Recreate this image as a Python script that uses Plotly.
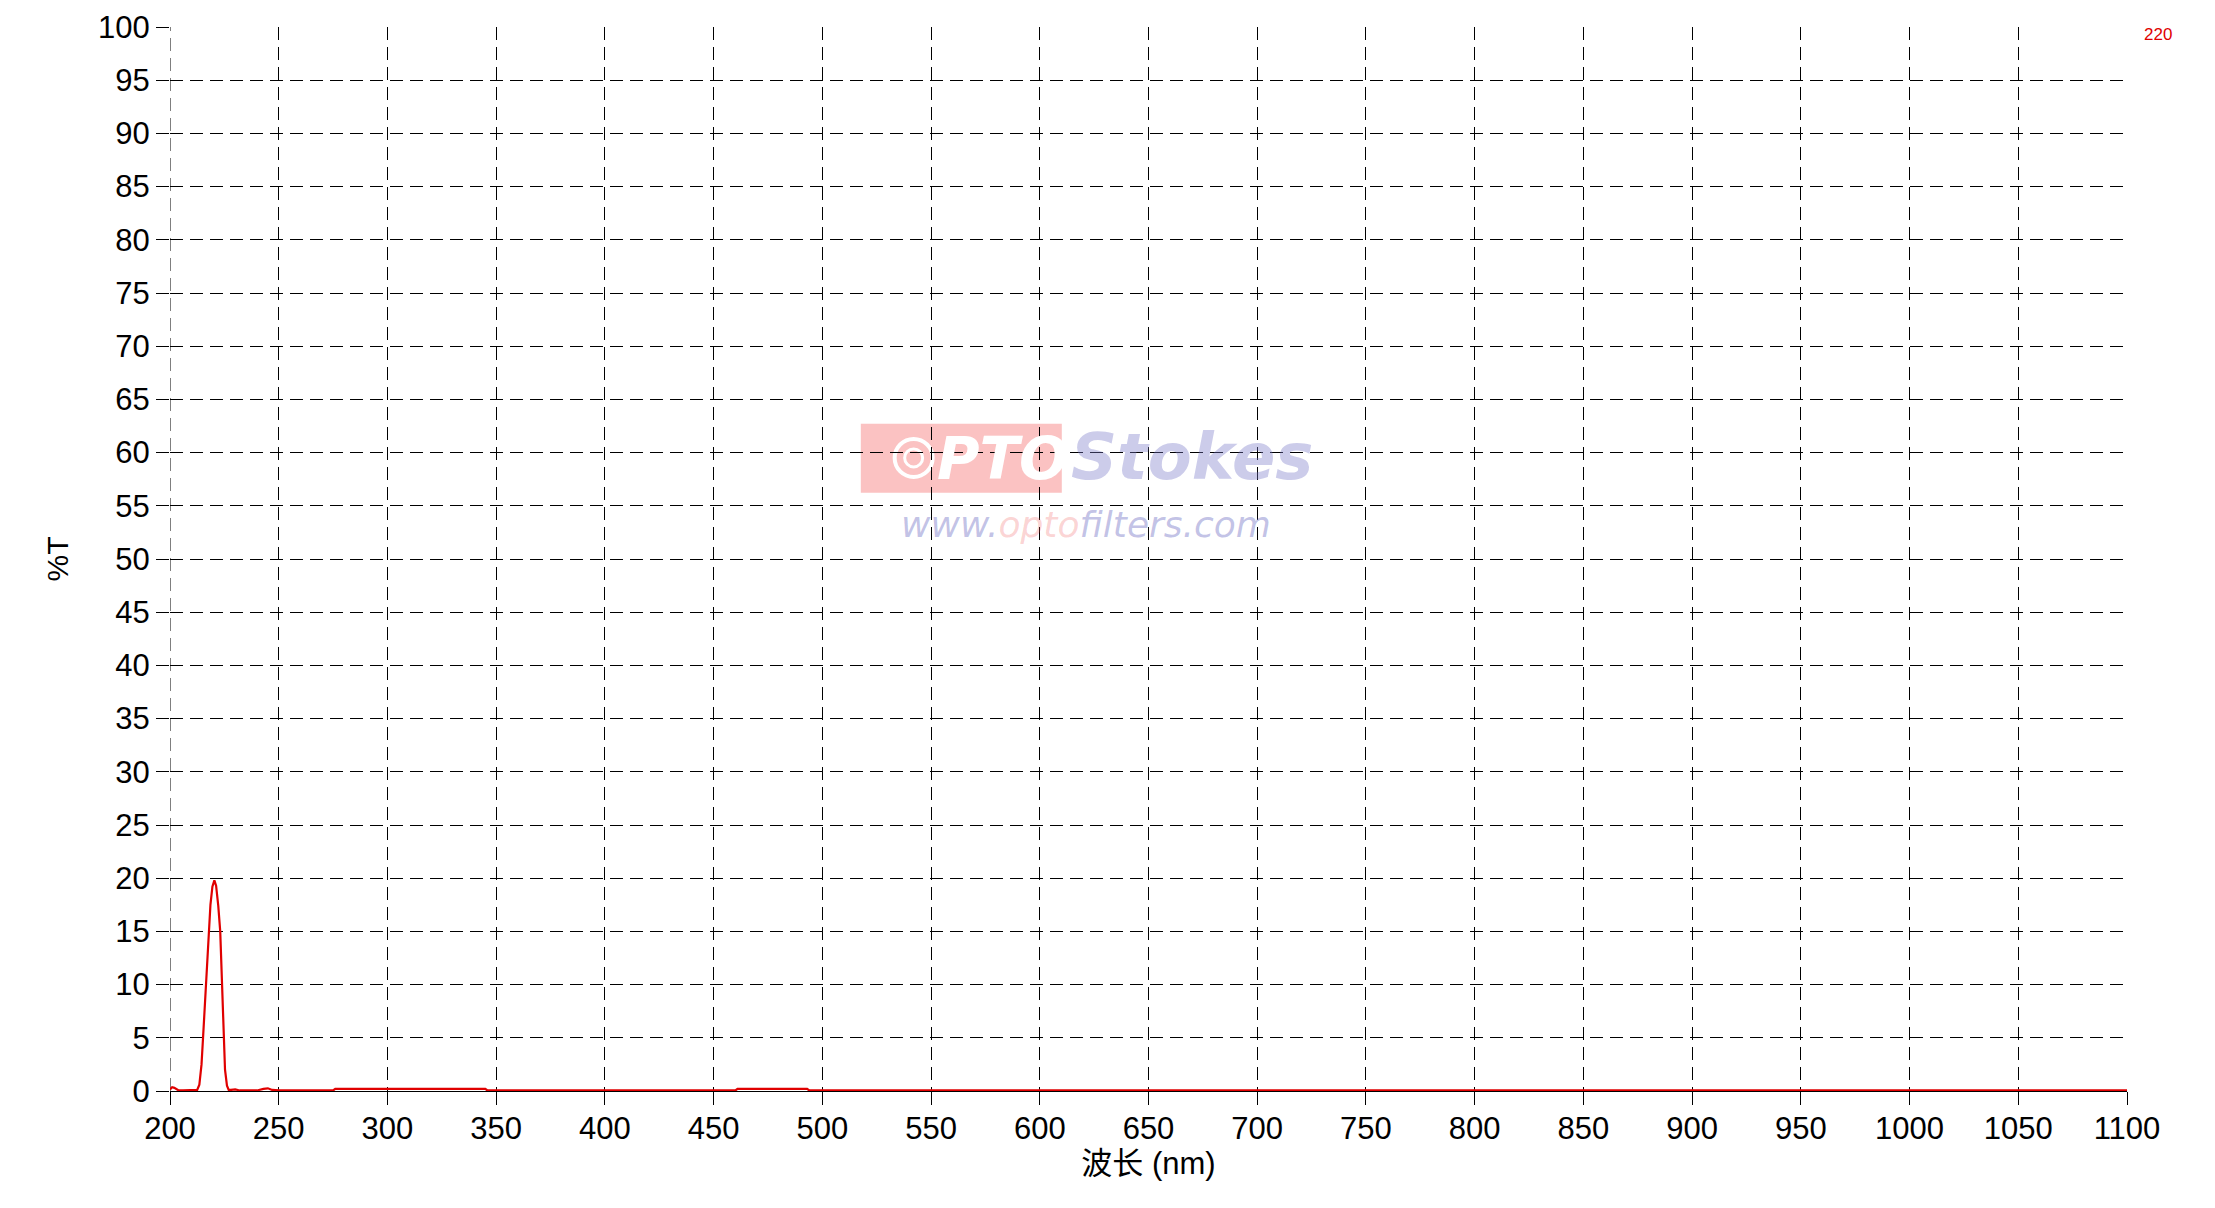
import plotly.graph_objects as go

# Wavelength (nm) and transmission (%T)
wavelength = [200, 201, 202, 203, 204, 206, 208, 210, 212, 212.5, 213.5, 214.5, 215.2, 216.0, 216.5,
              217.2, 217.8, 218.6, 219.5, 220.4, 221.2, 222.2, 223.1, 223.9, 224.6, 225.3, 226.2,
              227.0, 228, 230, 232, 235, 240, 243, 245, 247, 250, 260, 275, 276, 300, 320, 345,
              346, 380, 420, 460, 461, 480, 493, 494, 550, 600, 700, 800, 900, 1000, 1100]
transmission = [0.15, 0.35, 0.3, 0.15, 0.05, 0.05, 0.05, 0.05, 0.05, 0.1, 0.6, 2.5, 5.0, 8.0, 10.0,
                12.8, 15.0, 17.5, 19.2, 19.8, 19.3, 17.4, 15.0, 10.0, 5.0, 2.0, 0.5,
                0.1, 0.1, 0.15, 0.05, 0.05, 0.05, 0.2, 0.25, 0.1, 0.05, 0.05, 0.05, 0.2, 0.2, 0.2, 0.2,
                0.05, 0.05, 0.05, 0.05, 0.2, 0.2, 0.2, 0.05, 0.05, 0.05, 0.05, 0.05, 0.05, 0.05, 0.05]

x_ticks = list(range(200, 1101, 50))
y_ticks = list(range(0, 101, 5))
series_name = "220"

FONT = "Liberation Sans, Arial, Noto Sans CJK SC, sans-serif"
GRIDDASH = "13px,7px"

fig = go.Figure()
fig.add_trace(go.Scatter(x=wavelength, y=transmission, mode="lines", name=series_name,
                         line=dict(color="#e00000", width=2.2), showlegend=False))

fig.update_layout(
    width=2199, height=1192,
    margin=dict(l=162, r=80, t=19, b=109, autoexpand=False),
    paper_bgcolor="white", plot_bgcolor="white",
    font=dict(family=FONT, color="black", size=31),
    xaxis=dict(range=[200, 1100], tickvals=x_ticks, ticktext=[str(v) for v in x_ticks],
               showline=True, linecolor="black", linewidth=1.3, showgrid=False, automargin=False,
               ticks="outside", ticklen=13, tickwidth=1.3, tickcolor="black",
               zeroline=False, tickfont=dict(size=31), ticklabelstandoff=-3,
               title=dict(text="波长 (nm)", font=dict(size=31), standoff=6)),
    # overlay axis used only to draw the vertical dashed grid (no line at 1100 in the reference)
    xaxis2=dict(range=[200, 1100], overlaying="x", tickvals=x_ticks[:-1], showticklabels=False,
                ticks="", showline=False, zeroline=False, showgrid=True, automargin=False,
                gridcolor="black", gridwidth=1, griddash=GRIDDASH),
    yaxis=dict(range=[0, 100], tickvals=y_ticks, ticktext=[str(v) for v in y_ticks],
               showline=False, ticks="outside", ticklen=13, tickwidth=1.3, tickcolor="black",
               zeroline=False, tickfont=dict(size=31), automargin=False,
               showgrid=True, gridcolor="black", gridwidth=1, griddash=GRIDDASH,
               title=dict(text="%T", font=dict(size=30), standoff=20)),
)
# invisible trace to activate the grid axis
fig.add_trace(go.Scatter(x=[wavelength[0]], y=[transmission[0]], xaxis="x2", mode="lines",
                         line=dict(width=0), hoverinfo="skip", showlegend=False))

# dashed grid line at the left edge (plotly clips edge grid lines)
fig.add_shape(type="line", xref="x", yref="paper", x0=x_ticks[0], x1=x_ticks[0], y0=0, y1=1,
              line=dict(color="black", width=1, dash=GRIDDASH), layer="below")

# series label at top right
fig.add_annotation(xref="paper", yref="paper", x=1.0158, y=0.9928, text=series_name,
                   showarrow=False, font=dict(size=17, color="#e00000"), xanchor="center", yanchor="middle")

# watermark
fig.add_shape(type="rect", xref="paper", yref="paper", x0=0.353, x1=0.4557, y0=0.5623, y1=0.627,
              fillcolor="rgba(245,110,110,0.42)", line=dict(width=0), layer="below")
fig.add_shape(type="circle", xref="paper", yref="paper", xsizemode="pixel", ysizemode="pixel",
              xanchor=0.3800, yanchor=0.5950, x0=-19, x1=19, y0=-19, y1=19,
              line=dict(color="white", width=4), layer="below")
fig.add_shape(type="circle", xref="paper", yref="paper", xsizemode="pixel", ysizemode="pixel",
              xanchor=0.3800, yanchor=0.5950, x0=-9, x1=9, y0=-9, y1=9,
              line=dict(color="white", width=3), layer="below")
fig.add_annotation(xref="paper", yref="paper", x=0.4253, y=0.594, text="<b><i>PTO</i></b>",
                   showarrow=False, font=dict(size=58, color="white", family="DejaVu Sans"))
fig.add_annotation(xref="paper", yref="paper", x=0.522, y=0.5959, text="<b><i>Stokes</i></b>",
                   showarrow=False, font=dict(size=64, color="rgba(120,120,200,0.38)", family="DejaVu Sans"))
fig.add_annotation(xref="paper", yref="paper", x=0.4681, y=0.532,
                   text="<i>www.<span style='color:rgba(240,90,90,0.6)'>opto</span>filters.com</i>",
                   showarrow=False, font=dict(size=36, color="rgba(120,120,200,0.45)", family="DejaVu Sans"))

fig.write_html("out.html")
